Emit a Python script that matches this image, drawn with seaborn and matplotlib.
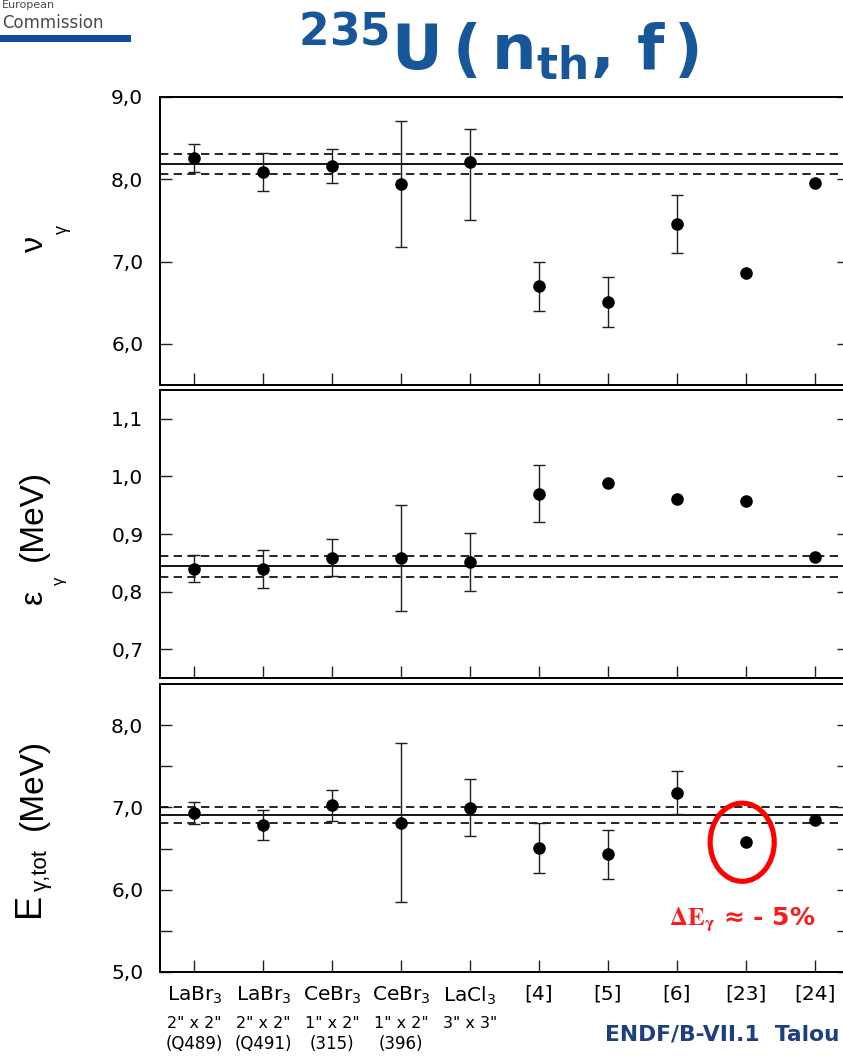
import numpy as np
import pandas as pd
import matplotlib
matplotlib.use("Agg")
import matplotlib.pyplot as plt
import matplotlib.transforms as mtransforms
import seaborn as sns
from matplotlib.patches import Ellipse, Rectangle
from matplotlib.ticker import FuncFormatter, FixedLocator
from matplotlib import font_manager

# ---------------- data ----------------
det_names = ["LaBr$_3$", "LaBr$_3$", "CeBr$_3$", "CeBr$_3$", "LaCl$_3$",
             "[4]", "[5]", "[6]", "[23]", "[24]"]
det_sizes = ['2" x 2"', '2" x 2"', '1" x 2"', '1" x 2"', '3" x 3"', "", "", "", "", ""]
det_ids = ["(Q489)", "(Q491)", "(315)", "(396)", "", "", "", "", "", ""]

nu_g = [8.26, 8.09, 8.16, 7.94, 8.21, 6.70, 6.51, 7.455, 6.86, 7.96]
nu_g_lo = [0.17, 0.23, 0.21, 0.76, 0.70, 0.30, 0.30, 0.35, np.nan, np.nan]
nu_g_hi = [0.17, 0.23, 0.21, 0.77, 0.40, 0.30, 0.30, 0.35, np.nan, np.nan]
nu_g_mean, nu_g_unc = 8.19, 0.12

eps_g = [0.840, 0.839, 0.859, 0.858, 0.851, 0.970, 0.989, 0.960, 0.958, 0.860]
eps_g_lo = [0.024, 0.033, 0.032, 0.092, 0.050, 0.050, np.nan, np.nan, np.nan, np.nan]
eps_g_hi = [0.024, 0.033, 0.032, 0.092, 0.050, 0.050, np.nan, np.nan, np.nan, np.nan]
eps_g_mean, eps_g_unc = 0.844, 0.018

etot = [6.936, 6.787, 7.026, 6.815, 6.997, 6.507, 6.43, 7.18, 6.577, 6.85]
etot_lo = [0.135, 0.18, 0.185, 0.97, 0.35, 0.30, 0.30, 0.26, np.nan, np.nan]
etot_hi = [0.135, 0.18, 0.185, 0.97, 0.35, 0.30, 0.30, 0.26, np.nan, np.nan]
etot_mean, etot_unc = 6.91, 0.097

highlight = "[23]"

# ---------------- style ----------------
sns.set_theme(style="ticks")
plt.rcParams["font.family"] = ["DejaVu Sans"]
plt.rcParams["mathtext.fontset"] = "dejavusans"

W, H = 843, 1056
fig = plt.figure(figsize=(W / 100, H / 100), dpi=100)
fig.patch.set_facecolor("white")


def fx(x):
    return x / W


def fy(y):
    return 1 - y / H


avail = {f.name for f in font_manager.fontManager.ttflist}
if "Liberation Sans Narrow" in avail:
    lab_family = ["Liberation Sans Narrow", "DejaVu Sans"]
    lab_big = 27
else:
    lab_family = ["Liberation Sans", "DejaVu Sans"]
    lab_big = 24

positions = np.arange(1, len(det_names) + 1)
df = pd.DataFrame({"pos": positions, "nu": nu_g, "nu_lo": nu_g_lo, "nu_hi": nu_g_hi,
                   "eps": eps_g, "eps_lo": eps_g_lo, "eps_hi": eps_g_hi,
                   "et": etot, "et_lo": etot_lo, "et_hi": etot_hi})

L, AW, AH = 160 / W, (849 - 160) / W, 288 / H
bottoms = [fy(385), fy(678), fy(972)]
axes = [fig.add_axes([L, b, AW, AH]) for b in bottoms]

panels = [
    ("nu", nu_g_mean, nu_g_unc, (5.5, 9.0), [6, 7, 8, 9], []),
    ("eps", eps_g_mean, eps_g_unc, (0.65, 1.15), [0.7, 0.8, 0.9, 1.0, 1.1], []),
    ("et", etot_mean, etot_unc, (5.0, 8.5), [5, 6, 7, 8], [5.5, 6.5, 7.5]),
]

comma = FuncFormatter(lambda v, p: f"{v:.1f}".replace(".", ","))

for ax, (col, mean, unc, ylim, major, minor) in zip(axes, panels):
    ax.set_facecolor("white")
    ax.axhline(mean, color="black", lw=1.3, zorder=1)
    ax.axhline(mean + unc, color="black", lw=1.2, ls=(0, (5, 3.2)), zorder=1)
    ax.axhline(mean - unc, color="black", lw=1.2, ls=(0, (5, 3.2)), zorder=1)

    sub = df[df[col + "_lo"].notna()]
    ax.errorbar(sub["pos"], sub[col], yerr=[sub[col + "_lo"], sub[col + "_hi"]],
                fmt="none", ecolor="#1e1e1e", elinewidth=1.0, capsize=4.4,
                capthick=1.0, zorder=2)
    sns.scatterplot(data=df, x="pos", y=col, ax=ax, color="black", s=82,
                    linewidth=0, zorder=3, legend=False)

    ax.set_xlim(0.5, 10.5)
    ax.set_ylim(*ylim)
    ax.yaxis.set_major_locator(FixedLocator(major))
    ax.yaxis.set_minor_locator(FixedLocator(minor))
    ax.yaxis.set_major_formatter(comma)
    ax.set_xticks(positions)
    ax.set_xlabel("")
    ax.set_ylabel("")
    for s in ax.spines.values():
        s.set_linewidth(1.4)
        s.set_color("black")
        s.set_visible(True)
    ax.tick_params(axis="both", which="both", direction="in", length=8.6,
                   width=1.0, color="#222222", top=False, right=True,
                   bottom=True, left=True)
    ax.tick_params(axis="y", labelsize=14.5, pad=12, labelcolor="black")
    ax.tick_params(axis="y", which="minor", labelleft=False)

axes[0].set_xticklabels([])
axes[1].set_xticklabels([])
axes[2].set_xticklabels(det_names, fontsize=14.5)
axes[2].tick_params(axis="x", pad=9, labelcolor="black")

# detector size / id lines under the tick labels
bt = mtransforms.blended_transform_factory(axes[2].transData, fig.transFigure)
for p, s, i in zip(positions, det_sizes, det_ids):
    if s:
        fig.text(p, fy(1024), s, transform=bt, ha="center", va="center",
                 fontsize=11.5, color="black")
    if i:
        fig.text(p, fy(1044), i, transform=bt, ha="center", va="center",
                 fontsize=12, color="black")

# highlight ellipse around the [23] point of the bottom panel
hi = det_names.index(highlight)
axes[2].add_patch(Ellipse((positions[hi] - 0.05, etot[hi]), width=0.93, height=0.95,
                          fill=False, ec="#ff0000", lw=3.7, zorder=4))
axes[2].text(8.95, 5.63, r"$\mathbf{\Delta E_\gamma}$ ≈ - 5%", color="#ff1a1a",
             fontsize=18, fontweight="bold", ha="center", va="center",
             math_fontfamily="stix")

# y labels (built from pieces, rotated)
fig.text(fx(35), fy(244), "ν", rotation=90, ha="center", va="center",
         fontsize=23, family=lab_family, color="black")
fig.text(fx(62), fy(230), "γ", rotation=90, ha="center", va="center",
         fontsize=13, family=lab_family, color="black")

fig.text(fx(34), fy(597), "ε", rotation=90, ha="center", va="center",
         fontsize=23, family=lab_family, color="black")
fig.text(fx(59), fy(581), "γ", rotation=90, ha="center", va="center",
         fontsize=12, family=lab_family, color="black")
fig.text(fx(33), fy(515), "(MeV)", rotation=90, ha="center", va="center",
         fontsize=lab_big, family=lab_family, color="black")

fig.text(fx(30), fy(905), "E", rotation=90, ha="center", va="center",
         fontsize=lab_big + 2, family=lab_family, color="black")
fig.text(fx(41), fy(870), "γ,tot", rotation=90, ha="center", va="center",
         fontsize=16, family=lab_family, color="black")
fig.text(fx(33), fy(784), "(MeV)", rotation=90, ha="center", va="center",
         fontsize=lab_big, family=lab_family, color="black")

# title
fig.text(fx(498), fy(47), r"$\mathbf{{}^{235}U\,(\,n_{th},\,f\,)}$", ha="center",
         va="center", fontsize=45, color="#175698")

# logo
fig.text(fx(2), fy(0), "European", ha="left", va="top", fontsize=8,
         color="#4a4a4a")
fig.text(fx(2), fy(23), "Commission", ha="left", va="center", fontsize=12,
         color="#4a4a4a")
fig.add_artist(Rectangle((0, fy(42)), fx(131), 7 / H, transform=fig.transFigure,
                         color="#0f4c9a", lw=0))

# footer
fig.text(fx(605), fy(1035), "ENDF/B-VII.1  Talou", ha="left", va="center",
         fontsize=15.7, fontweight="bold", color="#1d3f80")

fig.savefig("out.png", dpi=100, facecolor="white")
